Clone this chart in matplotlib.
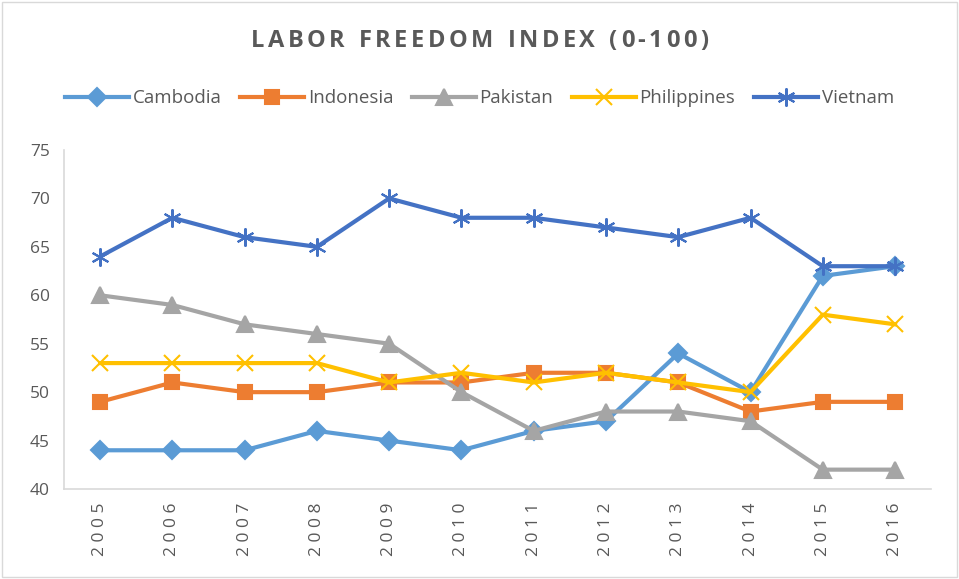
import matplotlib
matplotlib.use("Agg")
import matplotlib.pyplot as plt
from matplotlib.patches import Rectangle

# data
years = ["2005", "2006", "2007", "2008", "2009", "2010",
         "2011", "2012", "2013", "2014", "2015", "2016"]
cambodia = [44, 44, 44, 46, 45, 44, 46, 47, 54, 50, 62, 63]
indonesia = [49, 51, 50, 50, 51, 51, 52, 52, 51, 48, 49, 49]
pakistan = [60, 59, 57, 56, 55, 50, 46, 48, 48, 47, 42, 42]
philippines = [53, 53, 53, 53, 51, 52, 51, 52, 51, 50, 58, 57]
vietnam = [64, 68, 66, 65, 70, 68, 68, 67, 66, 68, 63, 63]
title = "LABOR FREEDOM INDEX (0-100)"

plt.rcParams['font.family'] = ['Open Sans', 'DejaVu Sans']
text_col = "#595959"

fig = plt.figure(figsize=(9.59, 5.79), dpi=100)
ax = fig.add_axes([0.0667, 0.1554, 0.9043, 0.5856])

x = list(range(len(years)))
series = [
    ("Cambodia", cambodia, "#5B9BD5", "D", 9),
    ("Indonesia", indonesia, "#ED7D31", "s", 10),
    ("Pakistan", pakistan, "#A5A5A5", "^", 11),
    ("Philippines", philippines, "#FFC000", "x", 11),
    ("Vietnam", vietnam, "#4472C4", (6, 2, 0), 13),
]
for name, vals, col, mk, ms in series:
    ax.plot(x, vals, color=col, lw=3, marker=mk, ms=ms, mew=1.5,
            mec=col, mfc=col, label=name)

ax.set_xlim(-0.5, len(years) - 0.5)
ax.set_ylim(40, 75)
ax.set_yticks(range(40, 76, 5))
ax.set_xticks(x)
ax.set_xticklabels([" ".join(y) for y in years], rotation=90)
ax.tick_params(length=0, labelsize=12.5, colors=text_col)
ax.tick_params(axis='y', pad=10)
ax.tick_params(axis='x', pad=10)
for s in ["top", "right"]:
    ax.spines[s].set_visible(False)
for s in ["left", "bottom"]:
    ax.spines[s].set_color("#D9D9D9")
    ax.spines[s].set_linewidth(1.2)

fig.legend(loc="center", bbox_to_anchor=(0.5, 0.83), ncol=5, frameon=False,
           fontsize=13.5, handlelength=3.4, columnspacing=1.0, handletextpad=0.2,
           labelcolor=text_col)

# title with letter spacing: lay out characters one by one
renderer = fig.canvas.get_renderer()
track = 3.5  # extra pixels between letters
widths = []
for ch in title:
    t = fig.text(0, 0, ch if ch != " " else "n", fontsize=17, fontweight="bold")
    w = t.get_window_extent(renderer).width
    widths.append(w * (0.45 if ch == " " else 1.0))
    t.remove()
total = sum(widths) + track * (len(title) - 1)
W = fig.get_figwidth() * fig.dpi
xpos = (W - total) / 2
for ch, w in zip(title, widths):
    if ch != " ":
        fig.text(xpos / W, 0.93, ch, ha="left", va="center", fontsize=17,
                 fontweight="bold", color=text_col)
    xpos += w + track

fig.patches.append(Rectangle((0.002, 0.003), 0.996, 0.994, transform=fig.transFigure,
                             fill=False, ec="#D9D9D9", lw=1))

fig.savefig("out.png", dpi=100)
